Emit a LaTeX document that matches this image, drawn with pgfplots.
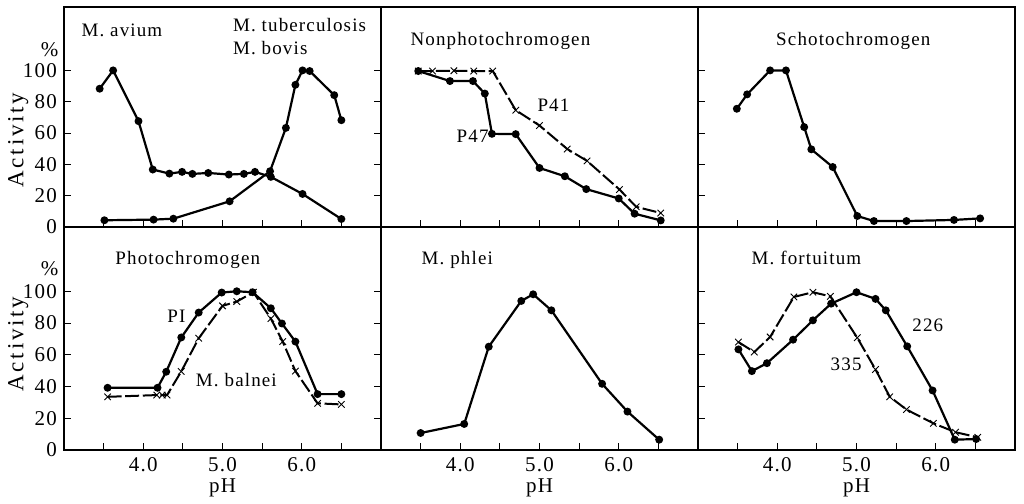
\documentclass[border=0pt]{standalone}
\usepackage{fontspec}
\setmainfont[LetterSpace=6]{Liberation Serif}
\usepackage{pgfplots}
\pgfplotsset{compat=1.18}

\pgfplotsset{
  panel/.style={scale only axis, width=158.5pt, xmin=3, xmax=7, ymin=0, ymax=140.5,
    xtick={3.5,4,4.5,5,5.5,6,6.5}, xticklabels={},
    ytick={0,20,40,60,80,100}, yticklabels={},
    tick align=inside, xtick pos=bottom, major tick length=3.3pt,
    tick style={line width=0.5pt, black},
    axis line style={line width=0.6pt}, clip=false,
    /pgf/number format/assume math mode=true,
    tick label style={font=\fontsize{10.5}{12}\selectfont}},
  toprow/.style={panel, height=110pt},
  botrow/.style={panel, height=111.5pt, xticklabels={,4.0,,5.0,,6.0,}},
  dots/.style={black, line width=1.1pt, mark=*, mark size=1.4pt},
  crosses/.style={black, line width=1pt, dash pattern=on 7pt off 1.8pt,
    mark=x, mark size=2.3pt, mark options={solid, line width=0.45pt}},
}
\tikzset{lab/.style={font=\fontsize{9.5}{11}\selectfont, inner sep=0pt, anchor=base west}}
\newcommand{\pctlabel}[1]{\node[font=\fontsize{10.5}{12}\selectfont] at (axis cs:2.82,#1) {\%};}
\newcommand{\actlabel}[1]{\node[rotate=90, font=\fontsize{11.5}{13}\selectfont\addfontfeature{LetterSpace=12}] at (rel axis cs:-0.144,#1) {Activity};}

\begin{document}
\begin{tikzpicture}
\path (0,0) rectangle (512pt,247.5pt);

% ---- top row ----
\begin{axis}[toprow, at={(32pt,134pt)}, anchor=south west,
  ytick pos=both, yticklabel pos=left, yticklabels={0,20,40,60,80,100}]
\addplot[dots] coordinates {
  (3.45,88.3) (3.62,100) (3.94,67.6) (4.12,36.7) (4.33,34.1) (4.49,35.2) (4.62,33.9)
  (4.82,34.5) (5.08,33.5) (5.27,33.9) (5.41,35.2) (5.61,32) (6.01,21.1) (6.5,5.1)};
\addplot[dots] coordinates {
  (3.51,4.3) (4.13,4.7) (4.38,5.3) (5.09,16.4) (5.60,35.6) (5.80,63.3) (5.92,90.8)
  (6.01,100) (6.10,99.6) (6.41,84.2) (6.5,68.2)};
\node[lab] at (rel axis cs:0.054,0.868) {M. avium};
\node[lab] at (rel axis cs:0.532,0.888) {M. tuberculosis};
\node[lab] at (rel axis cs:0.532,0.786) {M. bovis};
\pctlabel{113}
\actlabel{0.395}
\end{axis}

\begin{axis}[toprow, at={(190.5pt,134pt)}, anchor=south west, ytick=\empty]
\addplot[dots] coordinates {
  (3.47,99.6) (3.87,93.2) (4.16,93.2) (4.31,85.2) (4.40,59.5) (4.70,59.3) (5.00,37.7)
  (5.32,32.4) (5.59,24.2) (6.0,18.2) (6.20,8.5) (6.53,4.2)};
\addplot[crosses] coordinates {
  (3.47,99.6) (3.65,99.6) (3.92,99.8) (4.17,99.6) (4.41,99.6) (4.70,74.6) (5.0,64.8)
  (5.35,49.8) (5.60,42.2) (6.01,23.9) (6.22,12.9) (6.53,8.9)};
\node[lab] at (rel axis cs:0.092,0.827) {Nonphotochromogen};
\node[lab] at (axis cs:4.97,73.6) {P41};
\node[lab] at (axis cs:3.95,53.7) {P47};
\end{axis}

\begin{axis}[toprow, at={(349pt,134pt)}, anchor=south west, ytick pos=left]
\addplot[dots] coordinates {
  (3.49,75.5) (3.62,84.7) (3.91,100) (4.11,100) (4.34,63.8) (4.43,49.6) (4.70,38.3)
  (5.01,7.0) (5.22,3.8) (5.63,3.8) (6.23,4.5) (6.56,5.5)};
\node[lab, anchor=base] at (rel axis cs:0.49,0.827) {Schotochromogen};
\end{axis}

% ---- bottom row ----
\begin{axis}[botrow, at={(32pt,22.5pt)}, anchor=south west,
  ytick pos=both, yticklabel pos=left, yticklabels={0,20,40,60,80,100}]
\addplot[dots] coordinates {
  (3.55,39.2) (4.18,39.2) (4.29,49.3) (4.48,70.9) (4.70,86.6) (4.99,99.2) (5.18,100)
  (5.38,99.4) (5.61,89.3) (5.75,79.7) (5.92,68.3) (6.20,35.2) (6.50,35.2)};
\addplot[crosses] coordinates {
  (3.55,33.5) (4.17,34.6) (4.24,34.6) (4.30,34.6) (4.48,49.5) (4.70,70.4) (5.00,90.8)
  (5.18,93.5) (5.39,99.4) (5.61,82.8) (5.76,68.3) (5.92,49.7) (6.20,29.4) (6.50,28.7)};
\node[lab] at (rel axis cs:0.161,0.83) {Photochromogen};
\node[lab] at (axis cs:4.30,80.5) {PI};
\node[lab] at (axis cs:4.66,40.3) {M. balnei};
\pctlabel{114}
\actlabel{0.475}
\node[font=\fontsize{10.5}{12}\selectfont] at (rel axis cs:0.5,-0.17) {pH};
\end{axis}

\begin{axis}[botrow, at={(190.5pt,22.5pt)}, anchor=south west, ytick=\empty]
\addplot[dots] coordinates {
  (3.50,10.7) (4.05,16.4) (4.36,65.1) (4.77,93.9) (4.92,98.1) (5.15,88) (5.79,41.7)
  (6.11,24.2) (6.51,6.5)};
\node[lab] at (rel axis cs:0.127,0.83) {M. phlei};
\node[font=\fontsize{10.5}{12}\selectfont] at (rel axis cs:0.5,-0.17) {pH};
\end{axis}

\begin{axis}[botrow, at={(349pt,22.5pt)}, anchor=south west, ytick pos=left]
\addplot[dots] coordinates {
  (3.51,63.4) (3.68,49.7) (3.87,54.7) (4.20,69.5) (4.45,81.7) (4.68,92.2) (5.00,99.4)
  (5.24,95.2) (5.37,88) (5.64,65.3) (5.96,37.5) (6.24,6.5) (6.51,6.9)};
\addplot[crosses] coordinates {
  (3.51,68) (3.71,61.7) (3.91,71.2) (4.21,96.4) (4.45,99.4) (4.67,96.8) (5.01,70.7)
  (5.24,50.7) (5.42,33.5) (5.63,25.5) (5.97,16.8) (6.25,11.2) (6.53,8)};
\node[lab] at (rel axis cs:0.168,0.83) {M. fortuitum};
\node[lab] at (axis cs:5.70,74.8) {226};
\node[lab] at (axis cs:4.67,50.3) {335};
\node[font=\fontsize{10.5}{12}\selectfont] at (rel axis cs:0.5,-0.17) {pH};
\end{axis}
\end{tikzpicture}
\end{document}
